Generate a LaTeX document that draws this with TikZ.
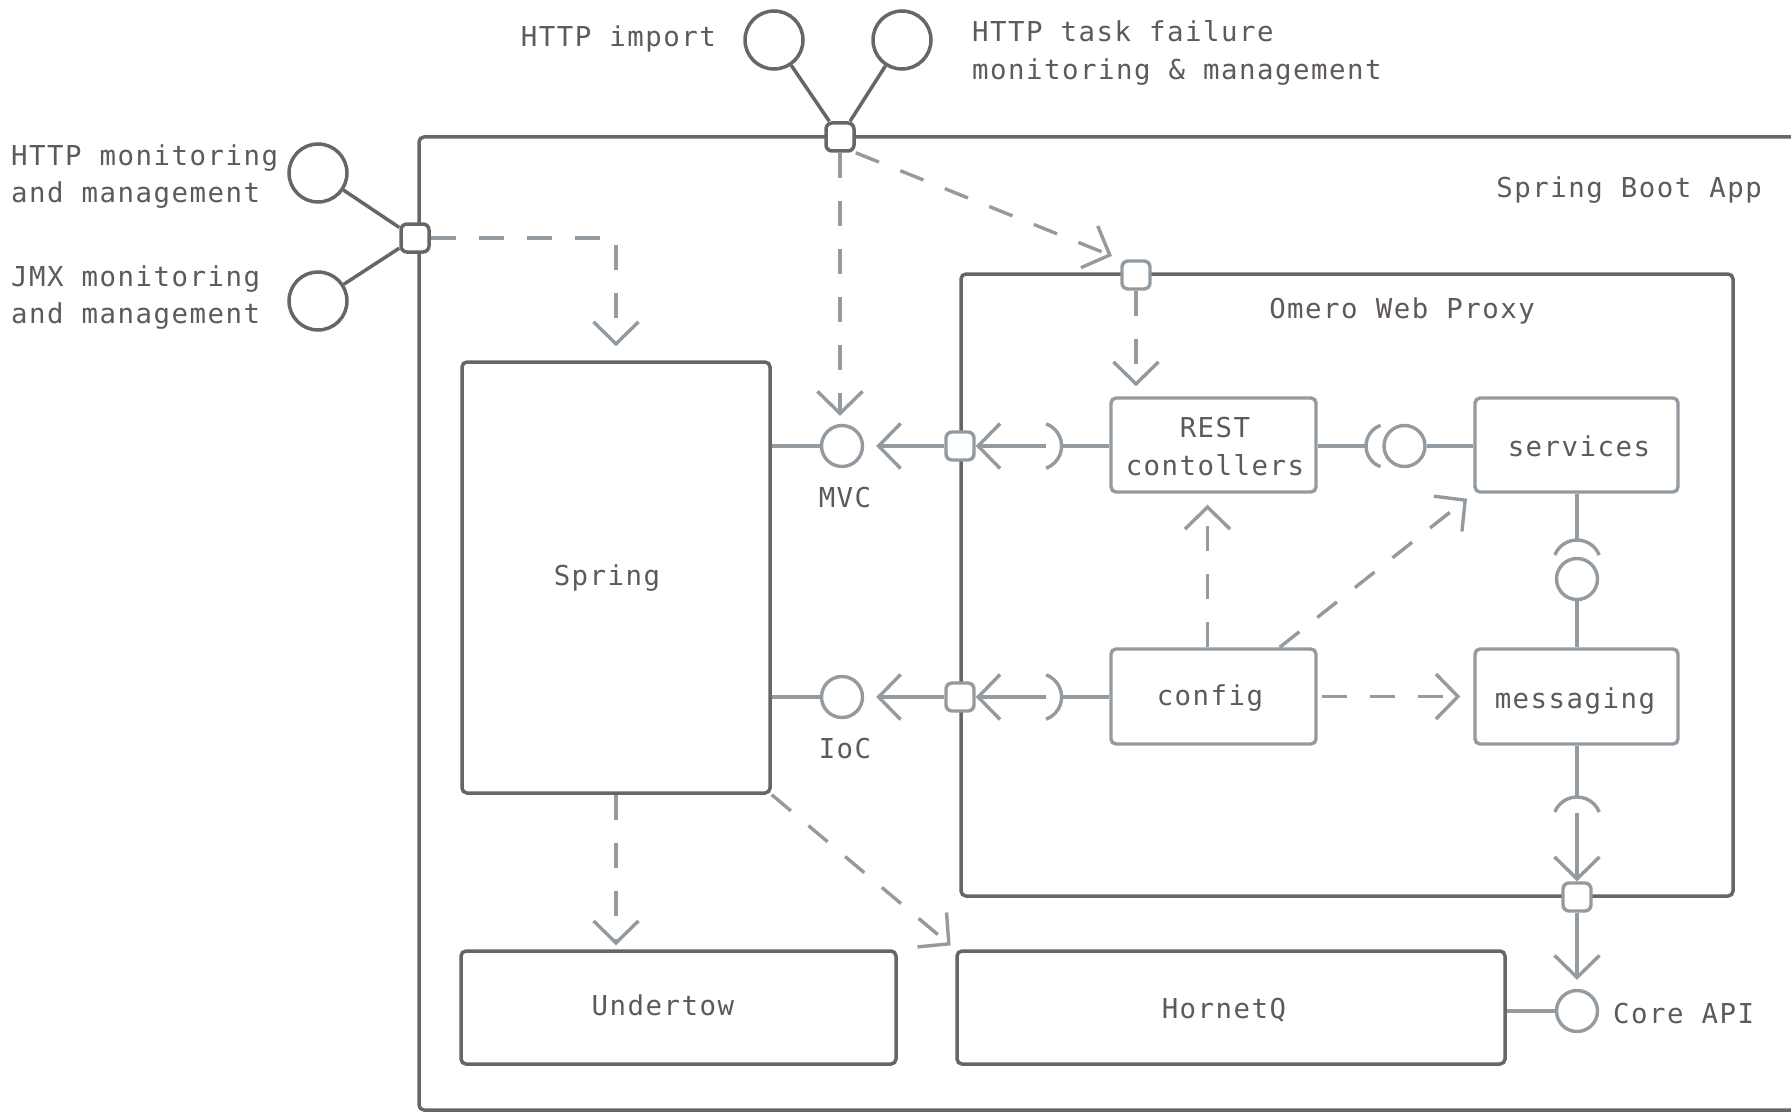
\documentclass[tikz,border=0pt]{standalone}
\usepackage{fontspec}
\usetikzlibrary{arrows.meta,calc}
\newfontfamily\diagfont{DejaVu Sans Mono}[LetterSpace=5.5]
\definecolor{dk}{HTML}{666666}
\definecolor{lt}{HTML}{939AA0}
\definecolor{tx}{HTML}{5F5959}
\begin{document}
\begin{tikzpicture}[x=1pt,y=-1pt,
  darkbox/.style={draw=dk,line width=3.5pt,rounded corners=5pt,inner sep=0pt},
  litbox/.style={draw=lt,line width=3.4pt,rounded corners=5pt,inner sep=0pt},
  portD/.style={draw=dk,fill=white,line width=3.5pt,rounded corners=6pt,minimum size=28pt,inner sep=0pt},
  portL/.style={draw=lt,fill=white,line width=3.4pt,rounded corners=6pt,minimum size=28pt,inner sep=0pt},
  dcirc/.style={circle,draw=dk,line width=3.5pt,minimum size=58pt,inner sep=0pt},
  ball/.style={circle,draw=lt,fill=white,line width=3.4pt,minimum size=41pt,inner sep=0pt},
  lbl/.style={text=tx,font=\diagfont\fontsize{27.4}{37}\selectfont,inner sep=0pt},
  dep/.style={draw=lt,line width=3.4pt,dash pattern=on 25pt off 23pt,-{Straight Barb[length=22pt,width=45pt]}},
  req/.style={draw=lt,line width=3.4pt,-{Straight Barb[length=22pt,width=45pt]}},
  wire/.style={draw=lt,line width=3.4pt},
  dwire/.style={draw=dk,line width=3.5pt}
]
\useasboundingbox (0,0) rectangle (1791,1113);

% containers
\node[darkbox,minimum width=1381pt,minimum height=973pt] (app) at (1109.5,623.5) {};
\node[darkbox,minimum width=772pt,minimum height=622pt] (omero) at (1347,585) {};

% components
\node[darkbox,minimum width=308pt,minimum height=431pt] (Spring) at (616,577.5) {};
\node[darkbox,minimum width=435pt,minimum height=113pt] (Undertow) at (678.5,1007.5) {};
\node[darkbox,minimum width=548pt,minimum height=113pt] (HornetQ) at (1231,1007.5) {};
\node[litbox,minimum width=205pt,minimum height=94pt] (REST) at (1213.5,445) {};
\node[litbox,minimum width=203pt,minimum height=94pt] (services) at (1576.5,445) {};
\node[litbox,minimum width=205pt,minimum height=95pt] (config) at (1213.5,696.5) {};
\node[litbox,minimum width=203pt,minimum height=95pt] (messaging) at (1576.5,696.5) {};

% ports
\node[portD] (tport) at (840,137) {};
\node[portD] (lport) at (415,238) {};
\node[portL] (oportT) at (1136,275) {};
\node[portL] (oportM) at (960,446) {};
\node[portL] (oportI) at (960,697) {};
\node[portL] (oportB) at (1577,897) {};

% provided interfaces
\node[dcirc] (cImport) at (774,40) {};
\node[dcirc] (cFail) at (902,40) {};
\node[dcirc] (cHttp) at (318,173) {};
\node[dcirc] (cJmx) at (318,301) {};
\node[ball] (ballMVC) at (842,446) {};
\node[ball] (ballIoC) at (842,697) {};
\node[ball] (ballSvc) at (1404.5,446) {};
\node[ball] (ballMsg) at (1577,579) {};
\node[ball] (ballCore) at (1577,1011) {};

% socket geometry
\coordinate (sMVC) at (1038,446);
\coordinate (sMVCo) at (1061.6,446);
\coordinate (sMVCi) at (1046,446);
\coordinate (sIoC) at (1038,697);
\coordinate (sIoCo) at (1061.6,697);
\coordinate (sIoCi) at (1046,697);
\coordinate (sSvc) at (1388,446);
\coordinate (sSvco) at (1366,446);
\coordinate (sMsg) at (1577,564);
\coordinate (sMsgo) at (1577,540);
\coordinate (sCore) at (1577,821);
\coordinate (sCoreo) at (1577,797);
\coordinate (sCorei) at (1577,813);

\draw[wire] ([shift={(-70:23.6)}]sMVC) arc[start angle=-70,end angle=70,radius=23.6];
\draw[wire] ([shift={(-70:23.6)}]sIoC) arc[start angle=-70,end angle=70,radius=23.6];
\draw[wire] ([shift={(110:22)}]sSvc) arc[start angle=110,end angle=250,radius=22];
\draw[wire] ([shift={(-158:24)}]sMsg) arc[start angle=-158,end angle=-22,radius=24];
\draw[wire] ([shift={(-158:24)}]sCore) arc[start angle=-158,end angle=-22,radius=24];

% dark wires to external interfaces
\draw[dwire] (cImport) -- (tport);
\draw[dwire] (cFail) -- (tport);
\draw[dwire] (cHttp) -- (lport);
\draw[dwire] (cJmx) -- (lport);

% assembly / delegation wires
\draw[wire] (Spring.east |- ballMVC) -- (ballMVC.west);
\draw[wire] (Spring.east |- ballIoC) -- (ballIoC.west);
\draw[wire] (sMVCo) -- (sMVCo -| REST.west);
\draw[wire] (sIoCo) -- (sIoCo -| config.west);
\draw[req] (sMVCi) -- (oportM.east);
\draw[req,shorten >=12pt] (oportM.west) -- (ballMVC.east);
\draw[req] (sIoCi) -- (oportI.east);
\draw[req,shorten >=12pt] (oportI.west) -- (ballIoC.east);
\draw[wire] (REST.east |- sSvco) -- (sSvco);
\draw[wire] (ballSvc.east) -- (ballSvc.east -| services.west);
\draw[wire] (services.south -| sMsgo) -- (sMsgo);
\draw[wire] (ballMsg.south) -- (ballMsg.south |- messaging.north);
\draw[wire] (messaging.south -| sCoreo) -- (sCoreo);
\draw[req] (sCorei) -- (oportB.north);
\draw[req,shorten >=9pt] (oportB.south) -- (ballCore.north);
\draw[wire] (HornetQ.east |- ballCore) -- (ballCore.west);

% dependencies
\draw[dep,shorten >=14pt] (lport.east) -| (Spring.north);
\draw[dep,shorten >=8pt] (tport.south) -- (tport.south |- ballMVC.north);
\draw[dep,shorten >=9pt] (tport.south east) -- (oportT.north west);
\draw[dep,shorten >=10pt] (oportT.south) -- (oportT.south |- REST.north);
\draw[dep,shorten >=11pt] ([xshift=-6pt]config.north) -- ([xshift=-6pt]REST.south);
\draw[dep,shorten >=8pt] ([xshift=-38pt]config.north east) -- (services.south west);
\draw[dep,shorten <=4pt,shorten >=13pt] (config.east) -- (messaging.west);
\draw[dep,shorten >=4pt] (Spring.south) -- (Spring.south |- Undertow.north);
\draw[dep,shorten >=6pt] (Spring.south east) -- (HornetQ.north west);

% labels
\node[lbl,anchor=base east] (tImport) at (716,47) {HTTP import};
\node[lbl,anchor=base west] (tFail1) at (972,42) {HTTP task failure};
\node[lbl,anchor=base west] (tFail2) at (972,80) {monitoring \& management};
\node[lbl,anchor=base west] (tHttp1) at (11,165) {HTTP monitoring};
\node[lbl,anchor=base west] (tHttp2) at (11,202) {and management};
\node[lbl,anchor=base west] (tJmx1) at (11,286) {JMX monitoring};
\node[lbl,anchor=base west] (tJmx2) at (11,323) {and management};
\node[lbl,anchor=base east] (tApp) at (1762,197) {Spring Boot App};
\node[lbl,anchor=base] (tOmero) at (1402,318) {Omero Web Proxy};
\node[lbl,anchor=base] (tSpring) at (607,585) {Spring};
\node[lbl,anchor=base] (tMVC) at (845,507) {MVC};
\node[lbl,anchor=base] (tIoC) at (845,758) {IoC};
\node[lbl,anchor=base] (tREST1) at (1215,437) {REST};
\node[lbl,anchor=base] (tREST2) at (1215,475) {contollers};
\node[lbl,anchor=base] (tSvc) at (1579,456) {services};
\node[lbl,anchor=base] (tConfig) at (1210,705) {config};
\node[lbl,anchor=base] (tMsg) at (1575,708) {messaging};
\node[lbl,anchor=base] (tUnder) at (663,1015) {Undertow};
\node[lbl,anchor=base] (tHornet) at (1224,1018) {HornetQ};
\node[lbl,anchor=base west] (tCore) at (1613,1023) {Core API};
\end{tikzpicture}
\end{document}
